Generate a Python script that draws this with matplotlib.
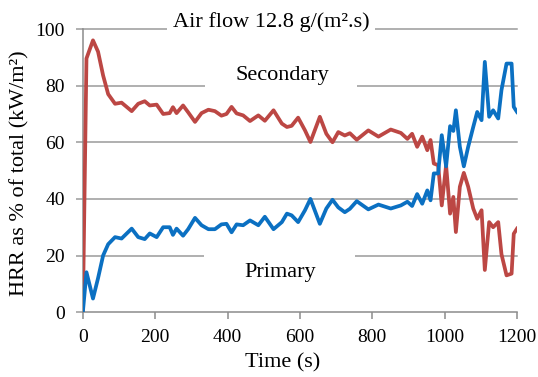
import numpy as np
import matplotlib
matplotlib.use('Agg')
import matplotlib.pyplot as plt
from matplotlib.patches import Rectangle

# time (s) sampled off the chart
time = [0, 10, 28, 42, 56, 70, 89, 107, 135, 153, 171, 185, 204, 222, 240, 249,
        259, 277, 291, 310, 328, 347, 365, 383, 397, 411, 425, 443, 462, 485,
        503, 527, 550, 564, 577, 595, 614, 629, 655, 673, 690, 706, 724, 738,
        757, 789, 817, 851, 879, 897, 910, 924, 938, 952, 961, 970, 982, 992,
        1004, 1015, 1024, 1031, 1042, 1053, 1065, 1079, 1090, 1102, 1111, 1123,
        1134, 1148, 1157, 1171, 1185, 1191, 1200]

primary = [0, 14.1, 4.8, 12, 20, 24, 26.5, 26, 29.5, 26.5, 25.8, 27.8, 26.5, 30,
           30, 27.3, 29.5, 27, 29.3, 33.3, 30.7, 29.3, 29.3, 31, 31.2, 28.2, 31,
           30.7, 32.4, 30.7, 33.7, 29.3, 31.8, 34.8, 34.2, 31.8, 36, 40, 31.2,
           36.6, 39.7, 37, 35.3, 36.5, 39.2, 36.3, 38, 36.6, 37.7, 39, 37.5, 41.7,
           38.3, 43, 39.5, 49, 49, 62.5, 51.5, 65.7, 64, 71.3, 58.4, 51.5, 58.4,
           65.4, 70.7, 67.8, 88.4, 69, 71.3, 68.4, 78.4, 87.8, 87.8, 72.5, 70.7]

secondary = [0, 89.6, 96, 92, 83.6, 77, 73.6, 74, 71, 73.6, 74.5, 73, 73.3, 70,
             70.3, 72.4, 70.3, 73, 70.6, 67.2, 70.3, 71.5, 71, 69.4, 70, 72.5,
             70.2, 69.5, 67.5, 69.5, 67.6, 71.3, 66.6, 65.4, 65.8, 68.7, 64.2,
             60.1, 69, 63, 60, 63.6, 62.4, 63.2, 60.9, 64.2, 62, 64.5, 63.3, 61.2,
             63, 58.4, 62, 57.2, 60.8, 52.5, 51.9, 37.7, 51.9, 34.8, 40.7, 28.3,
             44.3, 49.2, 44.3, 36.6, 33, 36, 14.9, 31.8, 30, 31.8, 20.5, 13, 13.6,
             27.7, 29.5]

x_ticks = [0, 200, 400, 600, 800, 1000, 1200]
y_ticks = [0, 20, 40, 60, 80, 100]

plt.rcParams['font.family'] = ['Liberation Serif', 'DejaVu Serif']

fig = plt.figure(figsize=(5.38, 3.77), dpi=100)
ax = fig.add_axes([0.154, 0.172, 0.807, 0.751])

ax.set_xlim(0, 1200)
ax.set_ylim(0, 100)
ax.set_xticks(x_ticks)
ax.set_yticks(y_ticks)

# grid
for v in y_ticks[1:]:
    ax.axhline(v, color='#9a9a9a', lw=1.1, zorder=1, clip_on=False)

# white boxes behind the labels, breaking the gridlines
ax.add_patch(Rectangle((232, 97), 575, 12, facecolor='white', edgecolor='none',
                       zorder=2, clip_on=False))
ax.add_patch(Rectangle((337, 77), 420, 10, facecolor='white', edgecolor='none', zorder=2))
ax.add_patch(Rectangle((335, 10), 417, 12, facecolor='white', edgecolor='none', zorder=2))

ax.plot(time, secondary, color='#BC4744', lw=2.7, zorder=3)
ax.plot(time, primary, color='#0B70C2', lw=2.7, zorder=4)

ax.text(521, 100.8, 'Air flow 12.8 g/(m\u00b2.s)', ha='center', va='baseline',
        fontsize=16, zorder=5, clip_on=False)
ax.text(552, 82, 'Secondary', ha='center', va='baseline', fontsize=16, zorder=5)
ax.text(545, 12.4, 'Primary', ha='center', va='baseline', fontsize=16, zorder=5)

for s in ['top', 'right']:
    ax.spines[s].set_visible(False)
for s in ['left', 'bottom']:
    ax.spines[s].set_color('#8c8c8c')
    ax.spines[s].set_linewidth(1.1)

ax.tick_params(axis='x', direction='out', length=5, width=1.1, color='#8c8c8c',
               labelsize=14, pad=7)
ax.tick_params(axis='y', direction='out', length=5, width=1.1, color='#9a9a9a',
               labelsize=14, pad=8)

ax.set_xlabel('Time (s)', fontsize=16)
ax.set_ylabel('HRR as % of total (kW/m\u00b2)', fontsize=16)
ax.xaxis.set_label_coords(0.46, -0.145)
ax.yaxis.set_label_coords(-0.124, 0.49)

fig.savefig('out.png', dpi=100)
